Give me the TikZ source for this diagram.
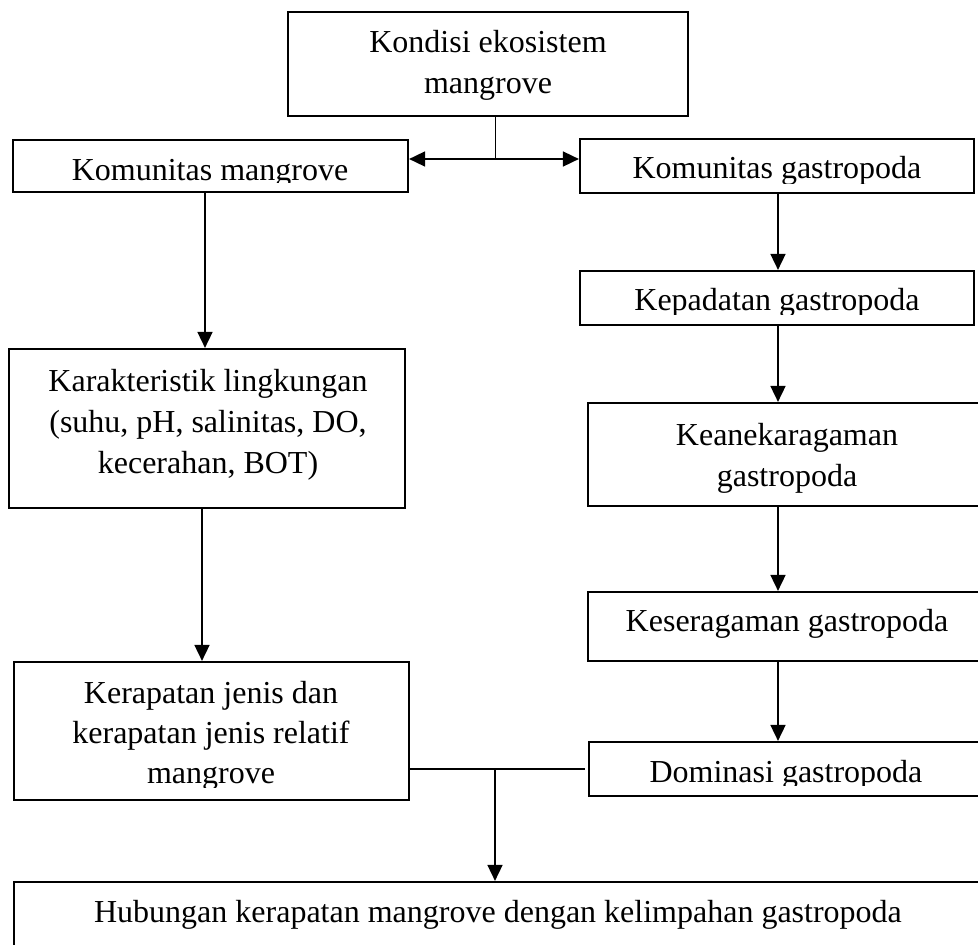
\documentclass[tikz,border=0pt]{standalone}
\usepackage{fontspec}
\setmainfont{Liberation Serif}
\usetikzlibrary{arrows.meta}
\tikzset{
  box/.style={draw, line width=2.2pt, inner sep=0pt},
  arr/.style={line width=1.7pt, -{Triangle[length=16pt,width=15pt]}},
  ln/.style={line width=1.4pt},
  txt/.style={font=\fontsize{32}{41}\selectfont, align=center, inner sep=0pt, anchor=base}
}
\begin{document}
\begin{tikzpicture}[x=1pt,y=-1pt]
\useasboundingbox (0,0) rectangle (978,945);
\clip (0,0) rectangle (978,945);
% boxes
\node[box, minimum width=400pt, minimum height=104pt] (kondisi) at (488,64) {};
\node[box, minimum width=395pt, minimum height=52pt] (km) at (210.5,166) {};
\node[box, minimum width=394pt, minimum height=54pt] (kg) at (777,166) {};
\node[box, minimum width=394pt, minimum height=54pt] (kep) at (777,298) {};
\node[box, minimum width=396pt, minimum height=159pt] (kar) at (207,428.5) {};
\node[box, minimum width=398pt, minimum height=103pt] (kean) at (787,454.5) {};
\node[box, minimum width=398pt, minimum height=69pt] (kes) at (787,626.5) {};
\node[box, minimum width=395pt, minimum height=138pt] (ker) at (211.5,731) {};
\node[box, minimum width=397pt, minimum height=54pt] (dom) at (787.5,769) {};
\node[box, minimum width=968pt, minimum height=70pt] (hub) at (498,917) {};
% texts (multi-line nodes: base = last line)
\node[txt] (t1) at (488,93) {Kondisi ekosistem\\mangrove};
\begin{scope}
\clip (13,140) rectangle (408,182.5);
\node[txt] (t2) at (210,180) {Komunitas mangrove};
\end{scope}
\begin{scope}
\clip (580,139) rectangle (974,183);
\node[txt] (t3) at (777,178) {Komunitas gastropoda};
\end{scope}
\begin{scope}
\clip (580,271) rectangle (974,314);
\node[txt] (t4) at (777,310) {Kepadatan gastropoda};
\end{scope}
\node[txt] (t5) at (208,473) {Karakteristik lingkungan\\(suhu, pH, salinitas, DO,\\kecerahan, BOT)};
\node[txt] (t6) at (787,486) {Keanekaragaman\\gastropoda};
\node[txt] (t7) at (787,631) {Keseragaman gastropoda};
\begin{scope}
\clip (14,662) rectangle (409,787);
\node[txt, font=\fontsize{32}{40}\selectfont] (t8) at (211,783) {Kerapatan jenis dan\\kerapatan jenis relatif\\mangrove};
\end{scope}
\begin{scope}
\clip (589,742) rectangle (986,785);
\node[txt] (t9) at (786,782) {Dominasi gastropoda};
\end{scope}
\node[txt] (t10) at (498,922) {Hubungan kerapatan mangrove dengan kelimpahan gastropoda};
% connectors
\coordinate (j1) at (495,159);
\coordinate (j2) at (495,769);
\draw[line width=1pt] (kondisi.south -| j1) -- (j1);
\draw[arr] (j1) -- (j1 -| km.east);
\draw[arr] (j1) -- (j1 -| kg.west);
\draw[arr] ([xshift=-5.5pt]km.south) -- ([xshift=-5.5pt]km.south |- kar.north);
\draw[arr] ([xshift=-5pt]kar.south) -- ([xshift=-5pt]kar.south |- ker.north);
\draw[arr] ([xshift=1pt]kg.south) -- ([xshift=1pt]kg.south |- kep.north);
\draw[arr] ([xshift=1pt]kep.south) -- ([xshift=1pt]kep.south |- kean.north);
\draw[arr] ([xshift=1pt]kep.south |- kean.south) -- ([xshift=1pt]kep.south |- kes.north);
\draw[arr] ([xshift=1pt]kep.south |- kes.south) -- ([xshift=1pt]kep.south |- dom.north);
\draw[ln] (ker.east |- j2) -- ([xshift=-3pt]dom.west);
\draw[arr] (j2) -- (j2 |- hub.north);
\end{tikzpicture}
\end{document}
